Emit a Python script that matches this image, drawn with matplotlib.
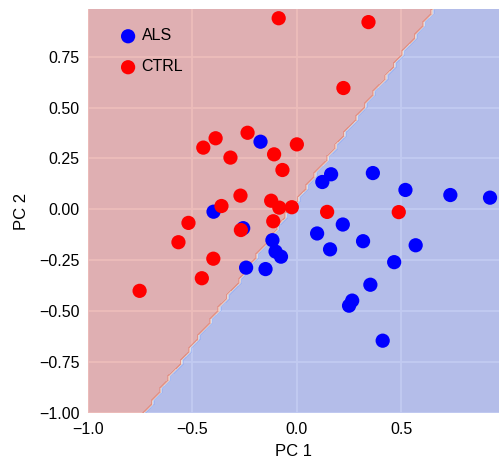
import numpy as np
import matplotlib
matplotlib.use("Agg")
import matplotlib.pyplot as plt

# PCA coordinates
als_pc1 = [-0.174, 0.122, 0.164, 0.364, 0.520, 0.735, 0.925, -0.399, -0.257, 0.220,
           0.097, 0.317, 0.569, 0.159, -0.117, -0.102, -0.076, -0.243, -0.150, 0.466,
           0.352, 0.265, 0.250, 0.411]
als_pc2 = [0.332, 0.134, 0.172, 0.178, 0.095, 0.070, 0.057, -0.012, -0.093, -0.075,
           -0.119, -0.157, -0.177, -0.197, -0.152, -0.208, -0.233, -0.287, -0.294, -0.260,
           -0.371, -0.449, -0.474, -0.646]
ctrl_pc1 = [-0.087, 0.343, 0.223, -0.236, -0.389, -0.448, -0.318, -0.109, -0.069, 0.000,
            -0.270, -0.361, -0.123, -0.084, -0.024, -0.519, -0.113, 0.145, 0.488, -0.268,
            -0.567, -0.400, -0.455, -0.753]
ctrl_pc2 = [0.939, 0.920, 0.596, 0.376, 0.349, 0.303, 0.254, 0.270, 0.193, 0.319,
            0.067, 0.016, 0.042, 0.008, 0.010, -0.067, -0.059, -0.013, -0.014, -0.102,
            -0.162, -0.243, -0.339, -0.401]

# linear classifier (CTRL side where w.x + b > 0)
coef = [-1.429, 1.0]
intercept = -0.0375

xticks = [-1.0, -0.5, 0.0, 0.5]
yticks = [-1.0, -0.75, -0.5, -0.25, 0.0, 0.25, 0.5, 0.75]

plt.rcParams['font.family'] = ['Liberation Sans', 'DejaVu Sans']

fig = plt.figure(figsize=(4.99, 4.62), dpi=100)
ax = fig.add_axes([0.1764, 0.1067, 0.8236, 0.8732])
ax.set_facecolor('#EAEAF2')
ax.set_axisbelow(True)
ax.grid(True, color='white', linewidth=1.25)
for s in ax.spines.values():
    s.set_visible(False)

x_lo, x_hi = -1.0, 0.968
y_lo, y_hi = -1.0, 0.983

# decision regions on a mesh
h = 0.02
xx, yy = np.meshgrid(np.arange(x_lo - h, x_hi + h, h), np.arange(y_lo - h, y_hi + h, h))
Z = (coef[0] * xx + coef[1] * yy + intercept > 0).astype(float)
ax.contourf(xx, yy, Z, cmap=plt.cm.coolwarm, alpha=0.35)

ax.scatter(als_pc1, als_pc2, s=105, c='blue', edgecolors='none', label='ALS', zorder=3)
ax.scatter(ctrl_pc1, ctrl_pc2, s=105, c='red', edgecolors='none', label='CTRL', zorder=3)

ax.set_xlim(x_lo, x_hi)
ax.set_ylim(y_lo, y_hi)
ax.set_xticks(xticks)
ax.set_yticks(yticks)
ax.tick_params(axis='x', length=0, labelsize=11.5, pad=7)
ax.tick_params(axis='y', length=0, labelsize=11.5, pad=6.3)
ax.set_xlabel('PC 1', fontsize=12, labelpad=5)
ax.set_ylabel('PC 2', fontsize=12, labelpad=7)
ax.legend(loc='upper left', bbox_to_anchor=(0.012, 1.0), frameon=False, fontsize=11.5,
          scatterpoints=1, handletextpad=-0.15, labelspacing=1.0, borderaxespad=0.8)

fig.savefig('out.png', dpi=100)
